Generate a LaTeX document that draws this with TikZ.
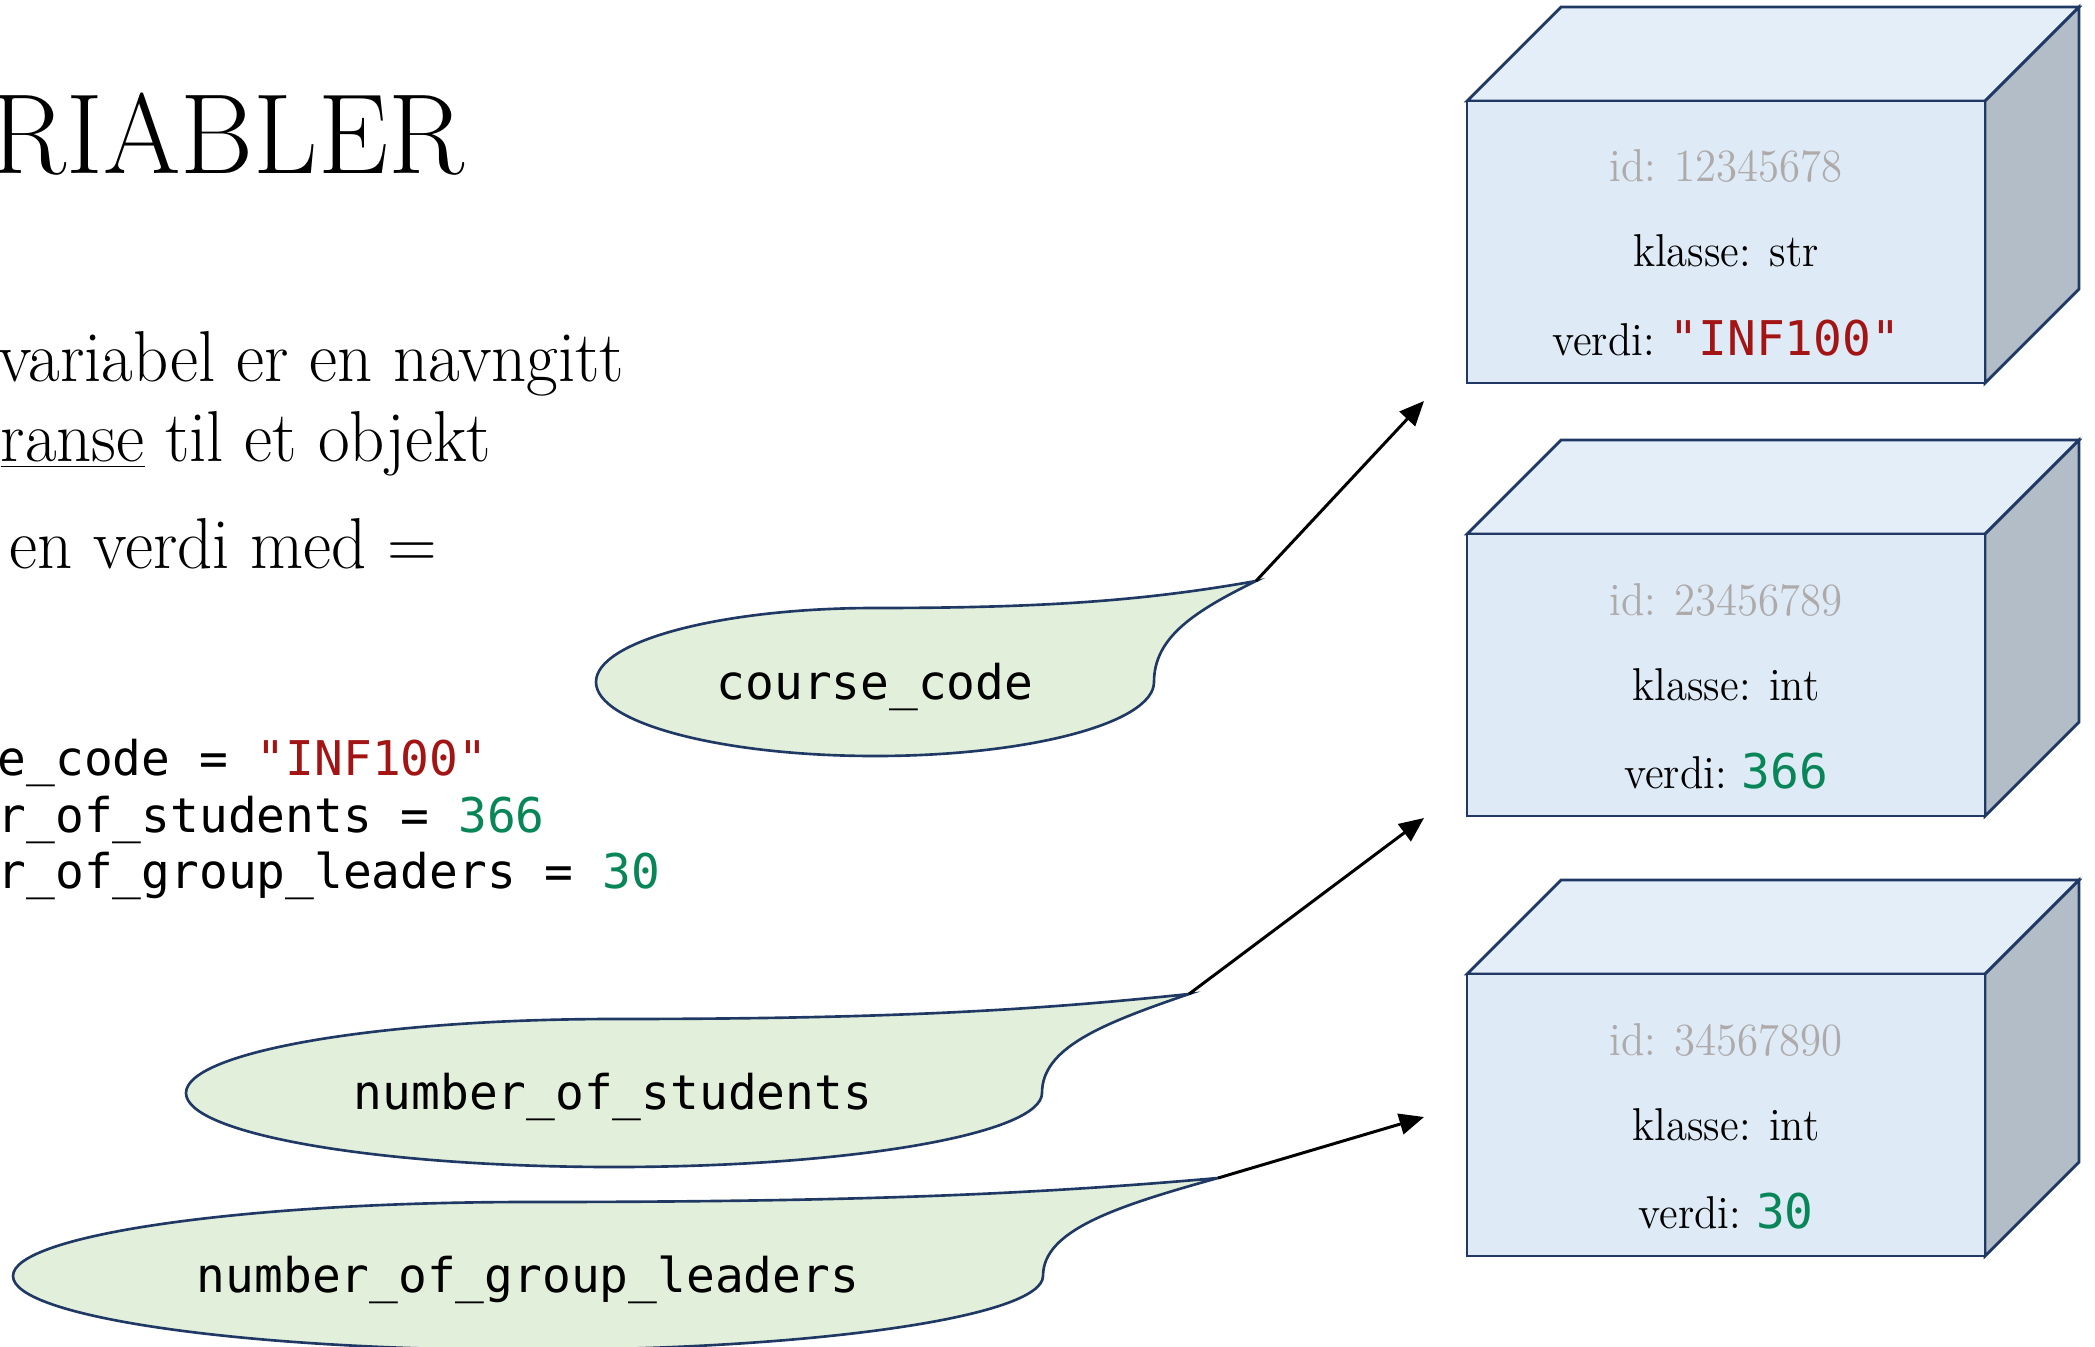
\documentclass[tikz,border=0pt]{standalone}
\usepackage{fontspec}
\usepackage{graphicx}
\newfontfamily\codefont{DejaVu Sans Mono}
\usetikzlibrary{arrows.meta}
\definecolor{navy}{HTML}{1F3864}
\definecolor{frontc}{HTML}{DEEAF6}
\definecolor{topc}{HTML}{E4EEF8}
\definecolor{sidec}{HTML}{B2BDC8}
\definecolor{bubc}{HTML}{E2EFDA}
\definecolor{strc}{HTML}{A31515}
\definecolor{numc}{HTML}{098658}
\definecolor{idc}{HTML}{AEAAAA}
\newcommand\cfs{\codefont\fontsize{13.6}{16}\selectfont}
\newcommand\sx[1]{\scalebox{0.93}[1]{#1}}
\newcommand\bodyscale[1]{\scalebox{0.955}[1]{#1}}
\newcommand\mycube[1]{%
  \filldraw[face, fill=topc] (1467,#1) -- (1561,{#1-94}) -- (2079,{#1-94}) -- (1985,#1) -- cycle;
  \filldraw[face, fill=sidec] (1985,#1) -- (2079,{#1-94}) -- (2079,{#1+188}) -- (1985,{#1+282}) -- cycle;
  \filldraw[face, fill=frontc] (1467,#1) rectangle (1985,{#1+282});
}
\begin{document}
\begin{tikzpicture}[x=0.01cm,y=-0.01cm,
  titletxt/.style={anchor=base east, inner sep=0pt, font=\fontsize{32.4}{36}\selectfont},
  bodytxt/.style={anchor=base east, inner sep=0pt, font=\fontsize{20.5}{24}\selectfont},
  codetxt/.style={anchor=base west, inner sep=0pt, font=\cfs},
  boxtxt/.style={anchor=base, inner sep=0pt, font=\fontsize{13.1}{15}\selectfont},
  bubtxt/.style={anchor=base, inner sep=0pt, font=\cfs},
  bubble/.style={draw=navy, fill=bubc, line width=0.75pt},
  face/.style={draw=navy, line width=0.8pt, line join=miter},
  ptr/.style={-{Triangle[length=7pt,width=6pt]}, line width=0.85pt, black}]
\useasboundingbox (0,0) rectangle (2095,1346);

% title and text
\node[titletxt] (title) at (465,174) {\scalebox{0.98}[1]{RIABLER}};
\node[bodytxt] (l1) at (625,381) {\bodyscale{variabel er en navngitt}};
\node[bodytxt] (l2) at (492,461) {\bodyscale{\underline{ranse} til et objekt}};
\node[bodytxt] (l3) at (438,568) {\bodyscale{en verdi med =}};

% code
\node[codetxt] (c1) at (-3,775) {e\_code = {\color{strc}"INF100"}};
\node[codetxt] (c2) at (-3,832) {r\_of\_students = {\color{numc}366}};
\node[codetxt] (c3) at (-3,888) {r\_of\_group\_leaders = {\color{numc}30}};

% bubbles
\filldraw[bubble] (1154,682) arc[start angle=0, end angle=270, x radius=279, y radius=74]
  .. controls (1050,608) and (1149,600) .. (1256,581)
  .. controls (1195,611) and (1154,637) .. (1154,682) -- cycle;
\coordinate (t1) at (1256,581);
\node[bubtxt] (b1) at (875,699) {course\_code};

\filldraw[bubble] (1042,1093) arc[start angle=0, end angle=270, x radius=428, y radius=74]
  .. controls (879,1019) and (1028,1011) .. (1189,994)
  .. controls (1101,1024) and (1042,1048) .. (1042,1093) -- cycle;
\coordinate (t2) at (1189,994);
\node[bubtxt] (b2) at (613,1109) {number\_of\_students};

\filldraw[bubble] (1043,1276) arc[start angle=0, end angle=270, x radius=515, y radius=74]
  .. controls (845,1202) and (1025,1195) .. (1218,1178)
  .. controls (1113,1207) and (1043,1231) .. (1043,1276) -- cycle;
\coordinate (t3) at (1218,1178);
\node[bubtxt] (b3) at (528,1292) {number\_of\_group\_leaders};

% boxes
\mycube{101}
\mycube{534}
\mycube{974}

\node[boxtxt, text=idc] (id1) at (1726,182) {\sx{id: 12345678}};
\node[boxtxt] (k1) at (1726,267) {\sx{klasse: str}};
\node[boxtxt] (v1) at (1726,355) {\sx{verdi:} {\cfs\color{strc}"INF100"}};

\node[boxtxt, text=idc] (id2) at (1726,615) {\sx{id: 23456789}};
\node[boxtxt] (k2) at (1726,700) {\sx{klasse: int}};
\node[boxtxt] (v2) at (1726,788) {\sx{verdi:} {\cfs\color{numc}366}};

\node[boxtxt, text=idc] (id3) at (1726,1055) {\sx{id: 34567890}};
\node[boxtxt] (k3) at (1726,1140) {\sx{klasse: int}};
\node[boxtxt] (v3) at (1726,1228) {\sx{verdi:} {\cfs\color{numc}30}};

% arrows
\coordinate (e1) at (1424,401);
\coordinate (e2) at (1424,818);
\coordinate (e3) at (1424,1117);
\draw[ptr] (t1) -- (e1);
\draw[ptr] (t2) -- (e2);
\draw[ptr] (t3) -- (e3);
\end{tikzpicture}
\end{document}
